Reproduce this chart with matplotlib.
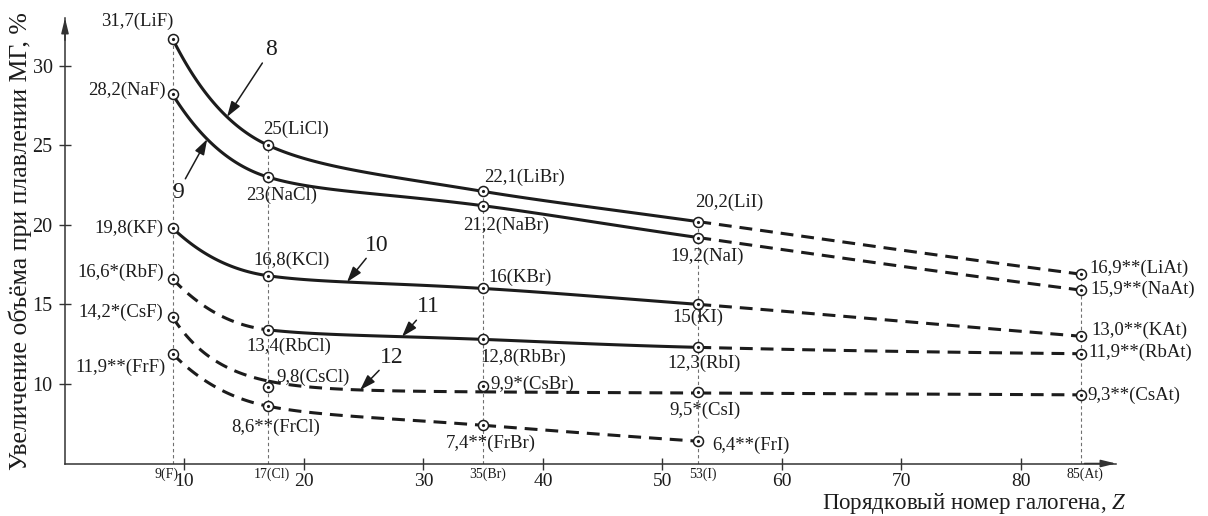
import numpy as np
import matplotlib
matplotlib.use("Agg")
import matplotlib.pyplot as plt

plt.rcParams['font.family'] = ['Liberation Serif', 'DejaVu Serif']
plt.rcParams['mathtext.fontset'] = 'custom'
plt.rcParams['mathtext.rm'] = 'Liberation Serif'
plt.rcParams['mathtext.it'] = 'Liberation Serif:italic'

# Atomic number of the halogen and its label
z = [9, 17, 35, 53, 85]
z_labels = ['9(F)', '17(Cl)', '35(Br)', '53(I)', '85(At)']
x_ticks = [10, 20, 30, 40, 50, 60, 70, 80]
y_ticks = [10, 15, 20, 25, 30]

# Volume change on melting, % (rows: alkali metal, columns: F, Cl, Br, I, At)
li = [31.7, 25.0, 22.1, 20.2, 16.9]
na = [28.2, 23.0, 21.2, 19.2, 15.9]
k = [19.8, 16.8, 16.0, 15.0, 13.0]
rb = [16.6, 13.4, 12.8, 12.3, 11.9]
cs = [14.2, 9.8, 9.9, 9.5, 9.3]
fr = [11.9, 8.6, 7.4, 6.4]

li_text = ['31,7(LiF)', '25(LiCl)', '22,1(LiBr)', '20,2(LiI)', '16,9**(LiAt)']
na_text = ['28,2(NaF)', '23(NaCl)', '21,2(NaBr)', '19,2(NaI)', '15,9**(NaAt)']
k_text = ['19,8(KF)', '16,8(KCl)', '16(KBr)', '15(KI)', '13,0**(KAt)']
rb_text = ['16,6*(RbF)', '13,4(RbCl)', '12,8(RbBr)', '12,3(RbI)', '11,9**(RbAt)']
cs_text = ['14,2*(CsF)', '9,8(CsCl)', '9,9*(CsBr)', '9,5*(CsI)', '9,3**(CsAt)']
fr_text = ['11,9**(FrF)', '8,6**(FrCl)', '7,4**(FrBr)', '6,4**(FrI)']

curve_numbers = ['8', '9', '10', '11', '12']

x_title = 'Порядковый номер галогена, $Z$'
y_title = 'Увеличение объёма при плавлении МГ, %'

INK = '#1c1c1c'
AXIS = '#333333'
GUIDE = '#707070'
DASH = (0, (4.2, 2.6))
LW = 2.2


def pchip(xk, yk, xs):
    xk = np.asarray(xk, float)
    yk = np.asarray(yk, float)
    h = np.diff(xk)
    d = np.diff(yk) / h
    n = len(xk)
    m = np.zeros(n)
    for i in range(1, n - 1):
        if d[i - 1] * d[i] > 0:
            w1 = 2 * h[i] + h[i - 1]
            w2 = h[i] + 2 * h[i - 1]
            m[i] = (w1 + w2) / (w1 / d[i - 1] + w2 / d[i])

    def end(h0, h1, d0, d1):
        mm = ((2 * h0 + h1) * d0 - h0 * d1) / (h0 + h1)
        if np.sign(mm) != np.sign(d0):
            mm = 0.0
        elif np.sign(d0) != np.sign(d1) and abs(mm) > abs(3 * d0):
            mm = 3 * d0
        return mm

    m[0] = end(h[0], h[1], d[0], d[1])
    m[-1] = end(h[-1], h[-2], d[-1], d[-2])
    xs = np.asarray(xs, float)
    idx = np.clip(np.searchsorted(xk, xs) - 1, 0, n - 2)
    t = (xs - xk[idx]) / h[idx]
    hh = h[idx]
    return ((2 * t**3 - 3 * t**2 + 1) * yk[idx] + (t**3 - 2 * t**2 + t) * hh * m[idx]
            + (-2 * t**3 + 3 * t**2) * yk[idx + 1] + (t**3 - t**2) * hh * m[idx + 1])


def smooth(xk, yk):
    u = np.log(xk)
    return lambda x: pchip(u, yk, np.log(np.asarray(x, float)))


def trend(xk, yk):
    xk = np.asarray(xk, float)
    yk = np.asarray(yk, float)

    def basis(x):
        x = np.asarray(x, float)
        return np.column_stack([np.ones_like(x), np.exp(-(x - xk[0]) / 4.0), x])

    w = np.ones_like(xk)
    w[0] = 10.0
    w[-1] = 3.0
    coef = np.linalg.lstsq(basis(xk) * w[:, None], yk * w, rcond=None)[0]
    return lambda x: basis(np.atleast_1d(x)) @ coef


series = [
    (li, li_text, ['-', '-', '-', '--'], smooth),
    (na, na_text, ['-', '-', '-', '--'], smooth),
    (k, k_text, ['-', '-', '-', '--'], smooth),
    (rb, rb_text, ['--', '-', '-', '--'], smooth),
    (cs, cs_text, ['--', '--', '--', '--'], trend),
    (fr, fr_text, ['--', '--', '--'], smooth),
]

# label placement: (ha, dx px, dy px) relative to the point
label_layout = [
    [('right', 1, 17), ('left', -5, 16), ('left', 1, 14), ('left', -3, 19), ('left', 9, 6)],
    [('right', -7, 4), ('left', -22, -18), ('left', -20, -20), ('left', -28, -19), ('left', 10, 1)],
    [('right', -9, 0), ('left', -15, 15), ('left', 5, 11), ('left', -26, -13), ('left', 11, 6)],
    [('right', -9, 7), ('left', -22, -16), ('left', -3, -18), ('left', -31, -16), ('left', 8, 1)],
    [('right', -9, 5), ('left', 8, 10), ('left', 7, 1), ('left', -29, -18), ('left', 7, 0)],
    [('right', -7, -14), ('left', -37, -21), ('left', -37, -18), ('left', 14, -4)],
]

# curve number: text position and x of the arrow tip on the curve
number_layout = [((17.24, 31.0), 13.56), ((9.46, 22.06), 11.9), ((26.1, 18.73), 23.6),
                 ((30.38, 14.84), 28.2), ((27.36, 11.69), 24.7)]

W, H = 1208, 516
fig = plt.figure(figsize=(W / 100, H / 100), dpi=100)
ax = fig.add_axes([65 / W, (H - 463.5) / H, (1116 - 65) / W, (463.5 - 18) / H])
ax.set_xlim(0, 87.95)
ax.set_ylim(5, 33)

for s in ['top', 'right']:
    ax.spines[s].set_visible(False)
for s in ['left', 'bottom']:
    ax.spines[s].set_color(AXIS)
    ax.spines[s].set_linewidth(1.1)

ax.annotate('', xy=(1.0, 0), xytext=(0.97, 0), xycoords='axes fraction',
            arrowprops=dict(arrowstyle='-|>,head_length=0.9,head_width=0.22',
                            color=AXIS, lw=1.1, shrinkA=0, shrinkB=0))
ax.annotate('', xy=(0, 1.0), xytext=(0, 0.95), xycoords='axes fraction',
            arrowprops=dict(arrowstyle='-|>,head_length=0.9,head_width=0.22',
                            color=AXIS, lw=1.1, shrinkA=0, shrinkB=0))

ax.set_xticks(x_ticks)
ax.set_yticks(y_ticks)
ax.tick_params(axis='both', direction='inout', length=8, width=1.0, color=AXIS,
               labelsize=14.5, labelcolor=INK)
ax.tick_params(axis='x', pad=2.5, labelsize=14)
ax.tick_params(axis='y', pad=5)

# vertical guides at each halogen
all_vals = [s[0] for s in series]
for i, zi in enumerate(z):
    top = max(v[i] for v in all_vals if len(v) > i)
    ax.plot([zi, zi], [5, top], color=GUIDE, lw=0.8, ls=(0, (3, 2.5)), zorder=1)

for i, (zi, lab) in enumerate(zip(z, z_labels)):
    ax.annotate(lab, xy=(zi, 0), xycoords=('data', 'axes fraction'),
                xytext=(4 if i == 0 else 3, -8), textcoords='offset points',
                ha='right' if i == 0 else 'center', va='center', fontsize=10, color=INK)

curves = []
for vals, texts, styles, fit in series:
    xk = z[:len(vals)]
    f = fit(xk, vals)
    curves.append(f)
    for i, st in enumerate(styles):
        xs = np.linspace(xk[i], xk[i + 1], 120)
        ax.plot(xs, f(xs), color=INK, lw=LW, ls='-' if st == '-' else DASH, zorder=3)
    ax.plot(xk, vals, 'o', ms=7.2, mfc='white', mec=INK, mew=1.1, zorder=5)
    ax.plot(xk, vals, 'o', ms=2.3, mfc=INK, mec=INK, mew=0, zorder=6)

for vals, (_, texts, _, _), layout in zip(all_vals, series, label_layout):
    for zi, v, t, (ha, dx, dy) in zip(z, vals, texts, layout):
        ax.annotate(t, xy=(zi, v), xytext=(dx * 0.72, dy * 0.72), textcoords='offset points',
                    ha=ha, va='center', fontsize=13.5, color=INK, zorder=7)

for num, f, ((tx, ty), xa) in zip(curve_numbers, curves, number_layout):
    ya = float(np.ravel(f(np.array([xa])))[0])
    ax.annotate(num, xy=(xa, ya), xytext=(tx, ty), ha='center', va='center',
                fontsize=17, color=INK,
                arrowprops=dict(arrowstyle='-|>,head_length=0.55,head_width=0.18',
                                color=INK, lw=1.1, shrinkA=0, shrinkB=0))

fig.text(20 / W, 1 - 241 / H, y_title, rotation=90, ha='center', va='center',
         fontsize=18.5, color=INK)
fig.text(1126 / W, 0.5 / H, x_title, ha='right', va='bottom', fontsize=16.5, color=INK)

fig.savefig('out.png', dpi=100)
